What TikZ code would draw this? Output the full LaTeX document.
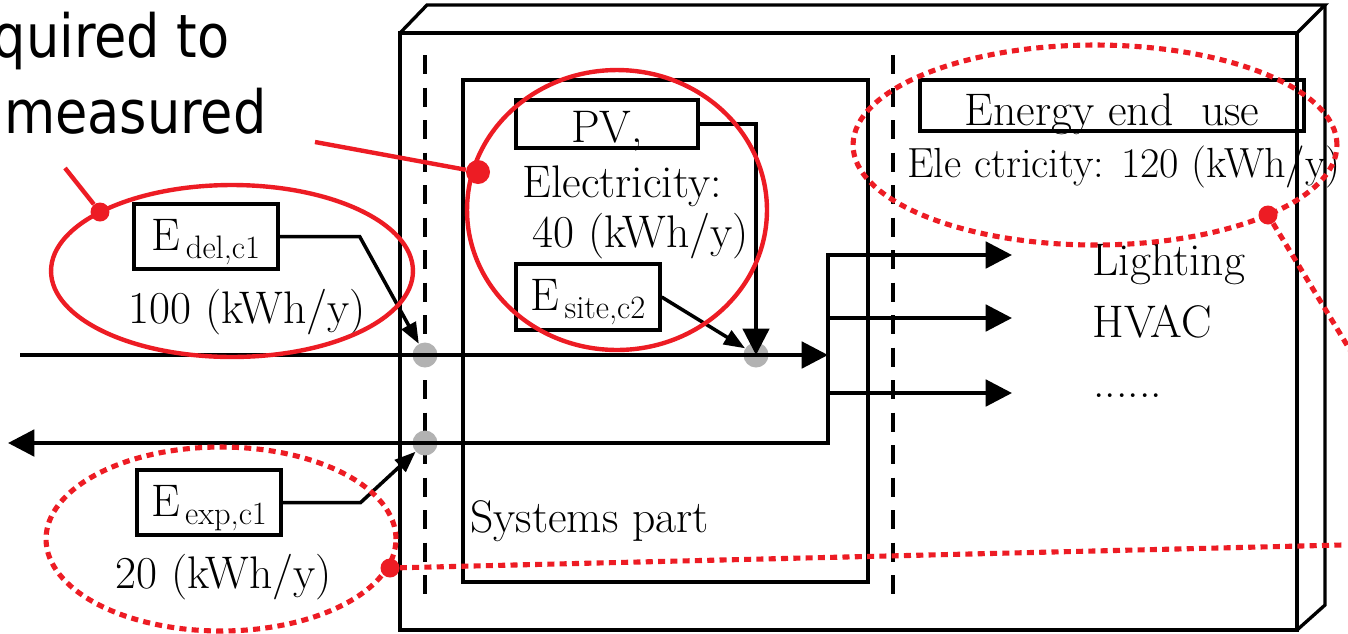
\documentclass[tikz,border=0pt]{standalone}
\usepackage{fontspec}
\newfontfamily\notefont[FakeStretch=0.88]{DejaVu Sans}
\usetikzlibrary{arrows.meta}
\definecolor{markred}{HTML}{ED1C24}
\newcommand{\idx}[1]{\hspace{3pt}\raisebox{-4.5pt}{\fontsize{18.5}{20}\selectfont #1}}

\begin{document}
\begin{tikzpicture}[
    x=0.02cm, y=-0.02cm,
    txt/.style={inner sep=0pt, font=\fontsize{26}{30}\selectfont},
    tagbox/.style={draw, line width=1.9pt, inner sep=0pt, font=\fontsize{26}{30}\selectfont,
                   minimum width=2.88cm, minimum height=1.3cm, text height=15.5pt, text depth=0pt},
    meter/.style={circle, fill=gray!60, minimum size=0.5cm, inner sep=0pt},
    flow/.style={line width=2.3pt, -{Triangle[length=15pt, width=15pt]}},
    hint/.style={line width=2pt, -{Triangle[length=12pt, width=9pt]}},
    wall/.style={line width=1.9pt},
    cutline/.style={line width=2pt, dash pattern=on 11pt off 7.5pt},
    ring/.style={draw=markred, line width=2.5pt},
    dotring/.style={draw=markred, line width=2.9pt, dash pattern=on 4pt off 3pt},
    reddot/.style={circle, fill=markred, minimum size=0.38cm, inner sep=0pt}
]
    \fill[white] (0,0) rectangle (1348,633);
    \useasboundingbox (0,0) rectangle (1348,633);

    % 1. 立体外框
    \draw[wall] (400,33) rectangle (1297,630);
    \draw[wall] (400,33) -- (427,5) -- (1325,5) -- (1297,33);
    \draw[wall] (1325,5) -- (1325,605) -- (1297,630);
    \draw[cutline] (425,55) -- (425,605);   % 左边界
    \draw[cutline] (893,55) -- (893,605);   % 右边界
    \draw[wall] (463,80) rectangle (868,582); % 系统部分

    % 2. 计量点
    \node[meter] (mDel) at (425,355) {};
    \node[meter] (mSite) at (756,355) {};
    \node[meter] (mExp) at (425,443) {};

    % 3. 能流端点
    \coordinate (gridIn) at (20,355);
    \coordinate (gridOut) at (8,443);
    \coordinate (jTop) at (828,255);
    \coordinate (jIn) at (828,355);
    \coordinate (jMid) at (828,318);
    \coordinate (jLow) at (828,393);
    \coordinate (jBot) at (828,443);
    \coordinate (useL) at (1012,255);
    \coordinate (useH) at (1012,318);
    \coordinate (useD) at (1012,393);

    \draw[flow] (gridIn) -- (jIn);
    \draw[line width=2.3pt, line cap=rect] (jTop) -- (jBot);
    \draw[flow] (jBot) -- (gridOut);
    \draw[flow] (jTop) -- (useL);
    \draw[flow] (jMid) -- (useH);
    \draw[flow] (jLow) -- (useD);

    % 4. 标签与文字
    \node[tagbox] (eDel) at (206,236.5) {E\idx{del,c1}};
    \node[txt, anchor=base west] (qDel) at (128,323) {100 (kWh/y)};
    \node[tagbox, minimum width=3.64cm, minimum height=0.96cm, text height=21.6pt] (pv) at (607,124) {PV,};
    \node[txt, anchor=base west] (pvEl) at (522,197) {Electricity:};
    \node[txt, anchor=base west] (pvQ) at (532,247) {40 (kWh/y)};
    \node[tagbox, minimum height=1.32cm] (eSite) at (588,297) {E\idx{site,c2}};
    \node[tagbox] (eExp) at (209,502.5) {E\idx{exp,c1}};
    \node[txt, anchor=base west] (qExp) at (115,588) {20 (kWh/y)};
    \node[txt, anchor=base west] (sys) at (470,532) {Systems part};
    \node[tagbox, minimum width=7.68cm, minimum height=1.02cm, text height=23.2pt] (endUse) at (1112,105.5) {Energy end\ \ use};
    \node[txt, anchor=base west, font=\fontsize{24}{28}\selectfont] (useQ) at (907,177) {Ele ctricity: 120 (kWh/y)};
    \node[txt, anchor=base west] (light) at (1092,275) {Lighting};
    \node[txt, anchor=base west] (hvac) at (1092,337) {HVAC};
    \node[txt, anchor=base west] (more) at (1093,397) {......};
    \node[txt, anchor=base east, font=\notefont\fontsize{34}{40}\selectfont] (noteA) at (230,57) {quired to};
    \node[txt, anchor=base east, font=\notefont\fontsize{34}{40}\selectfont] (noteB) at (267,133) {measured};

    % 5. 指向计量点的箭头
    \draw[hint] (eDel.east) -- ++(80,0) -- (mDel);
    \draw[hint] (eSite.east) -- (mSite);
    \draw[hint] (eExp.east) -- ++(78,0) -- (mExp);
    \draw[flow, line width=1.9pt] (pv.east) -| (mSite.center);

    % 6. 红色标注
    \draw[ring] (232,271) ellipse [x radius=3.62cm, y radius=1.72cm];
    \draw[ring] (617,210) ellipse [x radius=3.0cm, y radius=2.8cm];
    \draw[dotring] (1095,145) ellipse [x radius=4.84cm, y radius=2.0cm];
    \draw[dotring] (221,539) ellipse [x radius=3.5cm, y radius=1.84cm];
    \node[reddot] (pDel) at (100,212) {};
    \node[reddot, minimum size=0.48cm] (pPV) at (478,172) {};
    \node[reddot] (pUse) at (1268,215) {};
    \node[reddot] (pExp) at (390,568) {};
    \coordinate (tagDel) at (65,168);
    \coordinate (tagPV) at (315,142);
    \coordinate (tailUse) at (1350,350);
    \coordinate (tailExp) at (1342,545);
    \draw[ring] (tagDel) -- (pDel);
    \draw[ring] (tagPV) -- (pPV);
    \draw[dotring] (pUse) -- (tailUse);
    \draw[dotring] (pExp) -- (tailExp);

\end{tikzpicture}
\end{document}
